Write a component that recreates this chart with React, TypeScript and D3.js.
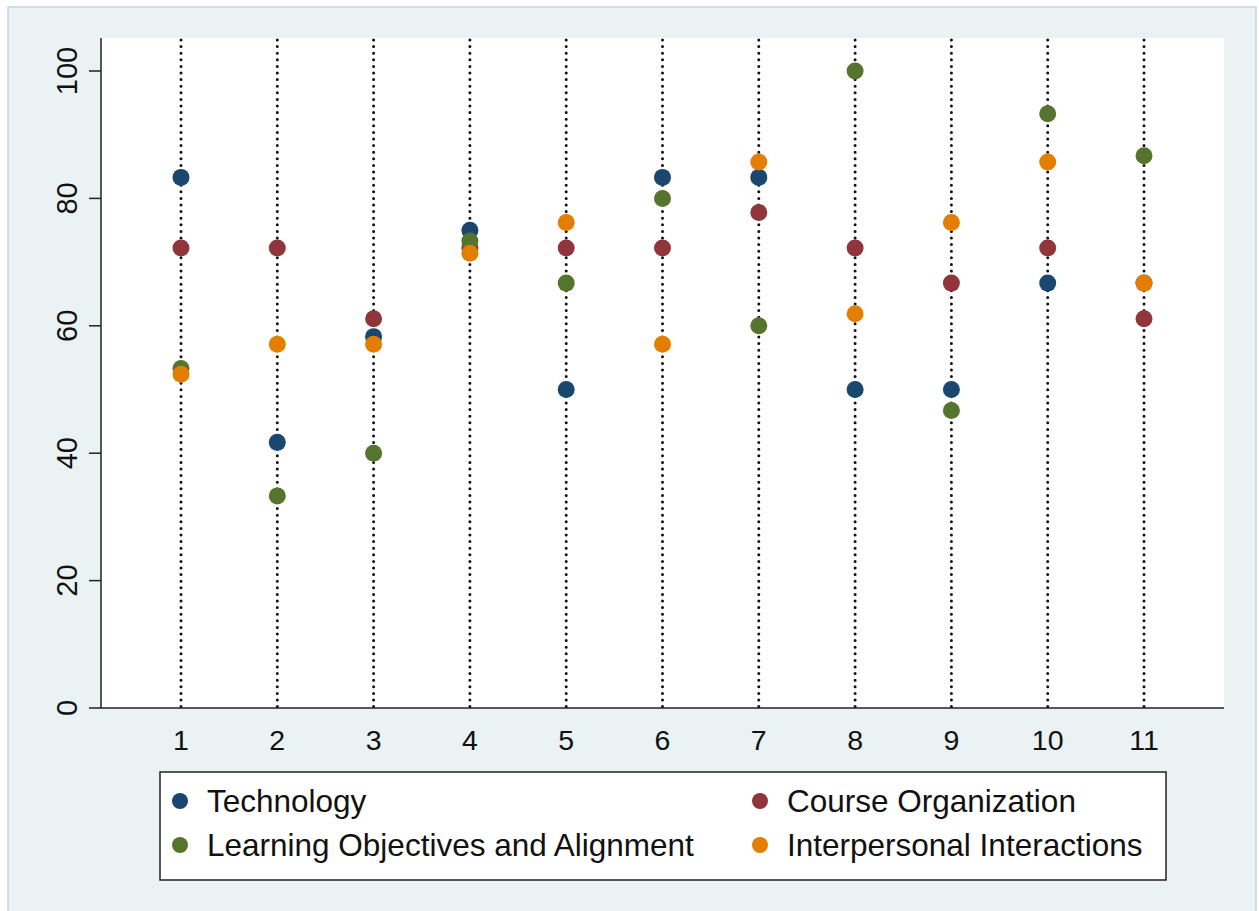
import * as d3 from 'd3'

const items = [1, 2, 3, 4, 5, 6, 7, 8, 9, 10, 11]
const seriesNames = ['Technology', 'Course Organization', 'Learning Objectives and Alignment', 'Interpersonal Interactions']
const technology = [83.3, 41.7, 58.3, 75, 50, 83.3, 83.3, 50, 50, 66.7, 66.7]
const courseOrganization = [72.2, 72.2, 61.1, 72.2, 72.2, 72.2, 77.8, 72.2, 66.7, 72.2, 61.1]
const learningObjectives = [53.3, 33.3, 40, 73.3, 66.7, 80, 60, 100, 46.7, 93.3, 86.7]
const interpersonal = [52.4, 57.1, 57.1, 71.4, 76.2, 57.1, 85.7, 61.9, 76.2, 85.7, 66.7]
const yTicks = [0, 20, 40, 60, 80, 100]

const colors = ['#1a476f', '#90353b', '#55752f', '#e37e00']
const allSeries = [technology, courseOrganization, learningObjectives, interpersonal]

export default function App() {
  const width = 1259
  const height = 911
  const plot = { left: 101, right: 1224, top: 38, bottom: 708 }

  const x = d3.scaleLinear().domain([1, 11]).range([181, 1144])
  const y = d3.scaleLinear().domain([0, 100]).range([708, 71])

  const font = 'Arial, "Liberation Sans", Helvetica, sans-serif'

  // legend layout: two columns, two rows
  const legendItems = [
    { name: seriesNames[0], color: colors[0], mx: 180, ty: 801 },
    { name: seriesNames[1], color: colors[1], mx: 760, ty: 801 },
    { name: seriesNames[2], color: colors[2], mx: 180, ty: 845 },
    { name: seriesNames[3], color: colors[3], mx: 760, ty: 845 },
  ]

  return (
    <svg
      width={width}
      height={height}
      style={{ position: 'fixed', top: 0, left: 0, display: 'block' }}
      fontFamily={font}
    >
      <rect x={0} y={0} width={width} height={height} fill="#ffffff" />
      <rect x={8} y={7} width={1248} height={910} fill="#eaf2f3" stroke="#c6d6dc" strokeWidth={1.5} />
      <rect x={plot.left} y={plot.top} width={plot.right - plot.left} height={plot.bottom - plot.top} fill="#ffffff" />

      {/* dotted verticals */}
      {items.map(d => (
        <line
          key={`v${d}`}
          x1={x(d)}
          x2={x(d)}
          y1={plot.top + 2}
          y2={plot.bottom}
          stroke="#111"
          strokeWidth={3}
          strokeLinecap="round"
          strokeDasharray="0 6.6"
        />
      ))}

      {/* axes */}
      <line x1={plot.left} x2={plot.left} y1={plot.top} y2={plot.bottom} stroke="#222" strokeWidth={1.5} />
      <line x1={plot.left} x2={plot.right} y1={plot.bottom} y2={plot.bottom} stroke="#222" strokeWidth={1.5} />

      {yTicks.map(t => (
        <g key={`y${t}`}>
          <line x1={plot.left - 12} x2={plot.left} y1={y(t)} y2={y(t)} stroke="#222" strokeWidth={1.5} />
          <text
            transform={`translate(${77},${y(t)}) rotate(-90)`}
            textAnchor="middle"
            fontSize={29}
            fill="#111"
          >
            {t}
          </text>
        </g>
      ))}

      {items.map(d => (
        <text key={`x${d}`} x={x(d)} y={750} textAnchor="middle" fontSize={28.5} fill="#111">
          {d}
        </text>
      ))}

      {/* points */}
      {allSeries.map((s, si) => (
        <g key={`s${si}`}>
          {s.map((v, i) => (
            <circle key={i} cx={x(items[i])} cy={y(v)} r={8.5} fill={colors[si]} />
          ))}
        </g>
      ))}

      {/* legend */}
      <rect x={160} y={772} width={1006} height={108} fill="#ffffff" stroke="#222" strokeWidth={1.5} />
      {legendItems.map(l => (
        <g key={l.name}>
          <circle cx={l.mx} cy={l.ty} r={8} fill={l.color} />
          <text x={l.mx + 27} y={l.ty + 11} fontSize={31.5} fill="#111">
            {l.name}
          </text>
        </g>
      ))}
    </svg>
  )
}
